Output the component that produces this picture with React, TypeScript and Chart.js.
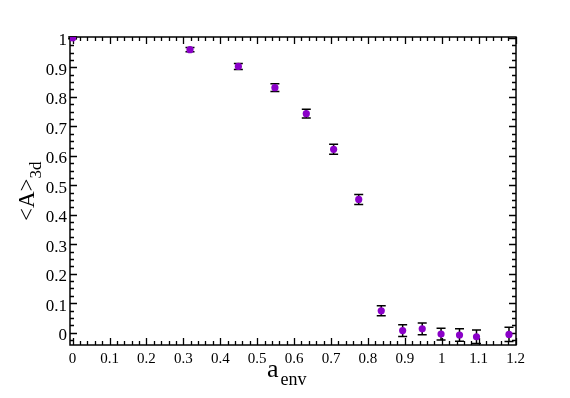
import React, { useEffect, useRef } from "react";
import { Chart, registerables } from "chart.js";

Chart.register(...registerables);

// ---- data ----
const aEnv = [0, 0.318, 0.449, 0.548, 0.633, 0.707, 0.775, 0.836, 0.894, 0.947, 0.998, 1.048, 1.094, 1.182];
const A3d = [1.0, 0.96, 0.903, 0.831, 0.743, 0.622, 0.452, 0.074, 0.007, 0.013, -0.005, -0.008, -0.014, -0.006];
const A3dErr = [0.003, 0.007, 0.01, 0.013, 0.015, 0.017, 0.017, 0.017, 0.02, 0.02, 0.02, 0.021, 0.023, 0.024];

const xTickValues = [0, 0.1, 0.2, 0.3, 0.4, 0.5, 0.6, 0.7, 0.8, 0.9, 1.0, 1.1, 1.2];
const xTickLabels = ["0", "0.1", "0.2", "0.3", "0.4", "0.5", "0.6", "0.7", "0.8", "0.9", "1", "1.1", "1.2"];
const yTickValues = [0, 0.1, 0.2, 0.3, 0.4, 0.5, 0.6, 0.7, 0.8, 0.9, 1.0];
const yTickLabels = ["0", "0.1", "0.2", "0.3", "0.4", "0.5", "0.6", "0.7", "0.8", "0.9", "1"];
const xMinorStep = 0.02;
const yMinorStep = 0.025;

const SERIF = '"Liberation Serif", "DejaVu Serif", serif';
const MARKER = "#8a00c8";

const framePlugin = {
  id: "frame",
  beforeDatasetsDraw(chart: any) {
    const { ctx, chartArea: a, scales } = chart;
    const xs = scales.x;
    const ys = scales.y;
    ctx.save();
    ctx.strokeStyle = "#000";
    ctx.lineWidth = 1.5;
    ctx.strokeRect(a.left, a.top, a.right - a.left, a.bottom - a.top);
    ctx.lineWidth = 1.3;
    const major = 7;
    const minor = 4;
    ctx.beginPath();
    const xMin = xs.min, xMax = xs.max;
    for (let i = Math.ceil(xMin / xMinorStep - 1e-6); i * xMinorStep <= xMax + 1e-9; i++) {
      const v = i * xMinorStep;
      const isMajor = Math.abs(v * 10 - Math.round(v * 10)) < 1e-6;
      const len = isMajor ? major : minor;
      const px = Math.round(xs.getPixelForValue(v)) + 0.5;
      ctx.moveTo(px, a.bottom);
      ctx.lineTo(px, a.bottom - len);
      ctx.moveTo(px, a.top);
      ctx.lineTo(px, a.top + len);
    }
    const yMin = ys.min, yMax = ys.max;
    for (let i = Math.ceil(yMin / yMinorStep - 1e-6); i * yMinorStep <= yMax + 1e-9; i++) {
      const v = i * yMinorStep;
      const isMajor = Math.abs(v * 10 - Math.round(v * 10)) < 1e-6;
      const len = isMajor ? major : minor;
      const py = Math.round(ys.getPixelForValue(v)) + 0.5;
      ctx.moveTo(a.left, py);
      ctx.lineTo(a.left + len, py);
      ctx.moveTo(a.right, py);
      ctx.lineTo(a.right - len, py);
    }
    ctx.stroke();

    // error bars
    ctx.lineWidth = 1.5;
    ctx.beginPath();
    const cap = 4.5;
    for (let i = 0; i < aEnv.length; i++) {
      const px = xs.getPixelForValue(aEnv[i]);
      const pTop = ys.getPixelForValue(A3d[i] + A3dErr[i]);
      const pBot = ys.getPixelForValue(A3d[i] - A3dErr[i]);
      ctx.moveTo(px, pTop);
      ctx.lineTo(px, pBot);
      ctx.moveTo(px - cap, pTop);
      ctx.lineTo(px + cap, pTop);
      ctx.moveTo(px - cap, pBot);
      ctx.lineTo(px + cap, pBot);
    }
    ctx.stroke();
    ctx.restore();
  },
  afterDraw(chart: any) {
    const { ctx } = chart;
    ctx.save();
    ctx.fillStyle = "#000";
    ctx.textBaseline = "alphabetic";
    ctx.textAlign = "left";
    // y title: <A> with subscript 3d, rotated
    ctx.save();
    ctx.translate(34, 221);
    ctx.rotate(-Math.PI / 2);
    ctx.font = `23px ${SERIF}`;
    ctx.fillText("<A>", 0, 0);
    const w = ctx.measureText("<A>").width;
    ctx.font = `17px ${SERIF}`;
    ctx.fillText("3d", w, 7);
    ctx.restore();
    // x title: a with subscript env
    ctx.font = `26px ${SERIF}`;
    ctx.fillText("a", 267, 377);
    const wa = ctx.measureText("a").width;
    ctx.font = `18px ${SERIF}`;
    ctx.fillText("env", 269 + wa, 385);
    ctx.restore();
  },
};

export default function App() {
  const ref = useRef<HTMLCanvasElement | null>(null);
  useEffect(() => {
    if (!ref.current) return;
    const chart = new Chart(ref.current, {
      type: "scatter",
      data: {
        datasets: [
          {
            label: "<A>3d",
            data: aEnv.map((x, i) => ({ x, y: A3d[i] })),
            pointRadius: 3.6,
            pointBackgroundColor: MARKER,
            pointBorderColor: MARKER,
            pointBorderWidth: 0,
            showLine: false,
          },
        ],
      },
      options: {
        responsive: false,
        animation: false,
        events: [],
        layout: { padding: { top: 37, right: 54, left: 0, bottom: 0 } },
        plugins: { legend: { display: false }, tooltip: { enabled: false } },
        scales: {
          x: {
            type: "linear",
            min: -0.007,
            max: 1.201,
            grid: { display: false, drawTicks: false },
            border: { display: false },
            afterBuildTicks: (s: any) => {
              s.ticks = xTickValues.map((v) => ({ value: v }));
            },
            afterFit: (s: any) => {
              s.height = 53;
            },
            ticks: {
              autoSkip: false,
              maxRotation: 0,
              padding: 5,
              color: "#000",
              font: { family: SERIF, size: 15 },
              callback: (_v: any, i: number) => xTickLabels[i],
            },
          },
          y: {
            type: "linear",
            min: -0.042,
            max: 1.003,
            grid: { display: false, drawTicks: false },
            border: { display: false },
            afterBuildTicks: (s: any) => {
              s.ticks = yTickValues.map((v) => ({ value: v }));
            },
            afterFit: (s: any) => {
              s.width = 70;
            },
            ticks: {
              autoSkip: false,
              padding: 3,
              labelOffset: 3,
              color: "#000",
              font: { family: SERIF, size: 17 },
              callback: (_v: any, i: number) => yTickLabels[i],
            },
          },
        },
      },
      plugins: [framePlugin],
    });
    return () => chart.destroy();
  }, []);
  return (
    <div style={{ position: "absolute", left: 0, top: 0, width: 570, height: 398, background: "#fff" }}>
      <canvas ref={ref} width={570} height={398} style={{ width: 570, height: 398, display: "block" }} />
    </div>
  );
}
